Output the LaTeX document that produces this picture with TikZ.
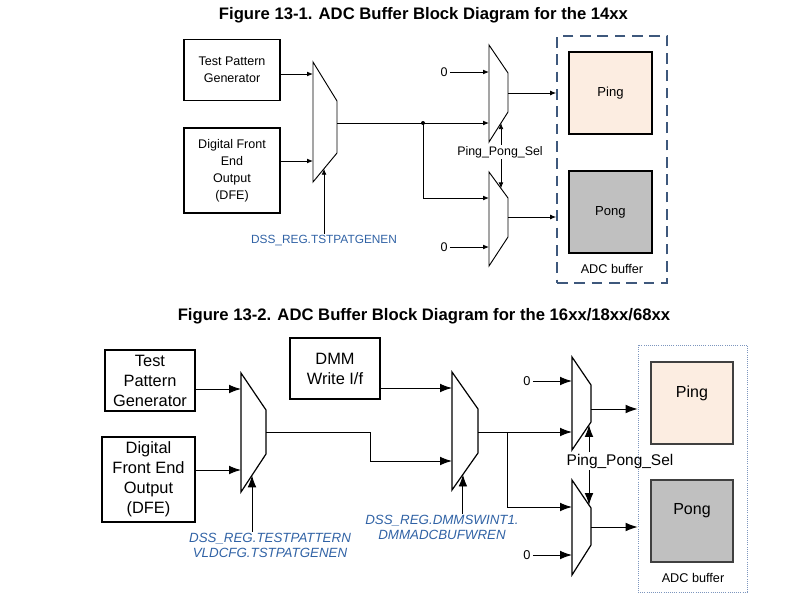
\documentclass[tikz,border=0pt]{standalone}
\usepackage{fontspec}
\setmainfont{Liberation Sans}
\usetikzlibrary{arrows.meta, positioning, calc}
\definecolor{regblue}{RGB}{48, 98, 165}
\definecolor{bufdash}{RGB}{62, 88, 124}
\definecolor{bufdot}{RGB}{125, 150, 190}
\definecolor{pingfill}{RGB}{252, 237, 225}
\definecolor{pongfill}{RGB}{192, 192, 192}

\begin{document}
\begin{tikzpicture}[x=0.75pt, y=-0.75pt,
  figtitle/.style={font=\fontsize{12.5}{15}\selectfont\bfseries},
  blkA/.style={draw, line width=1pt, align=center, inner sep=1pt, font=\fontsize{9.4}{12.75}\selectfont},
  blkB/.style={draw, line width=0.9pt, align=center, inner sep=1pt, font=\fontsize{12.3}{15}\selectfont},
  muxA/.style={draw, line width=0.7pt, fill=white},
  muxB/.style={draw, line width=0.9pt, fill=white},
  sigA/.style={-{Latex[length=4.5pt, width=3.6pt]}, line width=0.6pt},
  sigB/.style={-{Latex[length=9pt, width=6.5pt]}, line width=0.7pt},
  lineA/.style={line width=0.6pt},
  lineB/.style={line width=0.7pt},
  zeroA/.style={inner sep=1.5pt, font=\fontsize{9.4}{11}\selectfont},
  zeroB/.style={inner sep=1.5pt, font=\fontsize{9.6}{11}\selectfont}]
  \useasboundingbox (0,0) rectangle (785,611);

  % Figure 13-1
  \node[figtitle] (titleA) at (423.5,15) {Figure 13-1. ADC Buffer Block Diagram for the 14xx};

  \node[blkA, minimum width=72pt, minimum height=45.75pt] (tpgA) at (232,70) {Test Pattern\\Generator};
  \node[blkA, minimum width=72pt, minimum height=63.75pt] (dfeA) at (232,170.5) {Digital Front\\End\\Output\\(DFE)};

  % input mux
  \draw[muxA] (313,62) -- (337,101) -- (337,153) -- coordinate[pos=0.54] (selmA) (313,182) -- cycle;
  \coordinate (inmA1) at (313,74);
  \coordinate (inmA2) at (313,161);
  \coordinate (outmA) at (337,124);
  \draw[sigA] (tpgA.east |- inmA1) -- (inmA1);
  \draw[sigA] (dfeA.east |- inmA2) -- (inmA2);
  \node[text=regblue, inner sep=1pt, font=\fontsize{8.9}{11}\selectfont] (regA) at (324,241) {DSS\_REG.TSTPATGENEN};
  \draw[sigA] (regA.north -| selmA) -- (selmA);

  % ping / pong muxes
  \draw[muxA] (489,45) -- (508,73) -- (508,112) -- coordinate[pos=0.37] (selpA) (489,142) -- cycle;
  \draw[muxA] (489,172) -- coordinate[pos=0.63] (selqA) (508,198) -- (508,237) -- (489,266) -- cycle;
  \coordinate (inpA1) at (489,72);
  \coordinate (inpA2) at (489,123);
  \coordinate (outpA) at (508,93);
  \coordinate (inqA1) at (489,198);
  \coordinate (inqA2) at (489,247);
  \coordinate (outqA) at (508,217);
  \coordinate (jA) at (423,123);

  \draw[lineA] (outmA |- jA) -- (jA);
  \draw[sigA] (jA) -- (inpA2);
  \draw[sigA] (jA) |- (inqA1);
  \fill (jA) circle (2);

  \node[zeroA] (zpA) at (444,72) {0};
  \node[zeroA] (zqA) at (444,247) {0};
  \draw[sigA] (zpA.east) -- (inpA1);
  \draw[sigA] (zqA.east) -- (inqA2);

  \node[inner sep=1pt, font=\fontsize{9.3}{11}\selectfont] (ppsA) at (500,152) {Ping\_Pong\_Sel};
  \draw[sigA] (ppsA.north -| selpA) -- (selpA);
  \draw[sigA] (ppsA.south -| selqA) -- (selqA);

  % ADC buffer
  \node[draw=bufdash, line width=1.2pt, dash pattern=on 8pt off 5pt, minimum width=82.5pt, minimum height=185.25pt] (bufA) at (612,159.5) {};
  \node[draw, line width=1pt, fill=pingfill, minimum width=62.25pt, minimum height=61.5pt, font=\fontsize{9.8}{12}\selectfont] (pingA) at (610.5,93) {Ping};
  \node[draw, line width=1pt, fill=pongfill, minimum width=62.25pt, minimum height=61.5pt, font=\fontsize{9.8}{12}\selectfont] (pongA) at (610.5,212) {Pong};
  \node[inner sep=1pt, font=\fontsize{9.5}{11}\selectfont] (bufnameA) at (612,269) {ADC buffer};
  \draw[sigA] (outpA) -- (bufA.west |- outpA);
  \draw[sigA] (outqA) -- (bufA.west |- outqA);

  % Figure 13-2
  \node[figtitle] (titleB) at (424,316) {Figure 13-2. ADC Buffer Block Diagram for the 16xx/18xx/68xx};

  \node[blkB, minimum width=67.5pt, minimum height=45.75pt] (tpgB) at (150,380.5) {Test\\Pattern\\Generator};
  \node[blkB, minimum width=69.75pt, minimum height=63.75pt] (dfeB) at (148.5,479.5) {Digital\\Front End\\Output\\(DFE)};
  \node[blkB, minimum width=67.5pt, minimum height=45.75pt] (dmmB) at (335,368.5) {DMM\\Write I/f};

  % input mux
  \draw[muxB] (241,373) -- (266,410) -- (266,454) -- coordinate[pos=0.56] (selmB) (241,492) -- cycle;
  \coordinate (inmB1) at (241,389);
  \coordinate (inmB2) at (241,470);
  \coordinate (outmB) at (266,432);
  \draw[sigB] (tpgB.east |- inmB1) -- (inmB1);
  \draw[sigB] (dfeB.east |- inmB2) -- (inmB2);
  \node[text=regblue, align=center, inner sep=1pt, font=\fontsize{10}{11.25}\selectfont\itshape] (regB) at (270,545.5) {DSS\_REG.TESTPATTERN\\VLDCFG.TSTPATGENEN};
  \draw[sigB] (regB.north -| selmB) -- (selmB);

  % DMM mux
  \draw[muxB] (452,372) -- (478,409) -- (478,453) -- coordinate[pos=0.58] (selcB) (452,490) -- cycle;
  \coordinate (incB1) at (452,388);
  \coordinate (incB2) at (452,461);
  \coordinate (outcB) at (478,432);
  \coordinate (bendB) at (370,432);
  \draw[sigB] (dmmB.east |- incB1) -- (incB1);
  \draw[sigB] (outmB) -- (bendB) |- (incB2);
  \node[text=regblue, align=center, inner sep=1pt, font=\fontsize{10}{11.25}\selectfont\itshape] (regC) at (442,527.5) {DSS\_REG.DMMSWINT1.\\DMMADCBUFWREN};
  \draw[sigB] (regC.north -| selcB) -- (selcB);

  % ping / pong muxes
  \draw[muxB] (572,357) -- (591,385) -- (591,422) -- coordinate[pos=0.105] (selpB) (572,450) -- cycle;
  \draw[muxB] (572,480) -- coordinate[pos=0.895] (selqB) (591,508) -- (591,545) -- (572,575) -- cycle;
  \coordinate (inpB1) at (572,381);
  \coordinate (inpB2) at (572,432);
  \coordinate (outpB) at (591,409);
  \coordinate (inqB1) at (572,507);
  \coordinate (inqB2) at (572,555);
  \coordinate (outqB) at (591,527);
  \coordinate (jB) at (507,432);

  \draw[lineB] (outcB) -- (jB);
  \draw[sigB] (jB) -- (inpB2);
  \draw[sigB] (jB) |- (inqB1);

  \node[zeroB] (zpB) at (527,381) {0};
  \node[zeroB] (zqB) at (527,555) {0};
  \draw[sigB] (zpB.east) -- (inpB1);
  \draw[sigB] (zqB.east) -- (inqB2);

  % ADC buffer
  \node[draw=bufdot, line width=0.6pt, densely dotted, minimum width=81.75pt, minimum height=185.25pt] (bufB) at (692.5,468.5) {};
  \node[draw=black!75, line width=0.8pt, fill=pingfill, minimum width=61.5pt, minimum height=61.5pt,
        label={[font=\fontsize{12}{14}\selectfont, yshift=7.5pt]center:Ping}] (pingB) at (692,403) {};
  \node[draw=black!75, line width=0.8pt, fill=pongfill, minimum width=61.5pt, minimum height=61.5pt,
        label={[font=\fontsize{12}{14}\selectfont, yshift=7.5pt]center:Pong}] (pongB) at (692,521) {};
  \node[inner sep=1pt, font=\fontsize{9.5}{11}\selectfont] (bufnameB) at (693,578) {ADC buffer};
  \draw[sigB] (outpB) -- (bufB.west |- outpB);
  \draw[sigB] (outqB) -- (bufB.west |- outqB);

  \node[inner sep=1pt, font=\fontsize{11.6}{13}\selectfont] (ppsB) at (620,461) {Ping\_Pong\_Sel};
  \draw[sigB] (ppsB.north -| selpB) -- (selpB);
  \draw[sigB] (ppsB.south -| selqB) -- (selqB);
\end{tikzpicture}
\end{document}
